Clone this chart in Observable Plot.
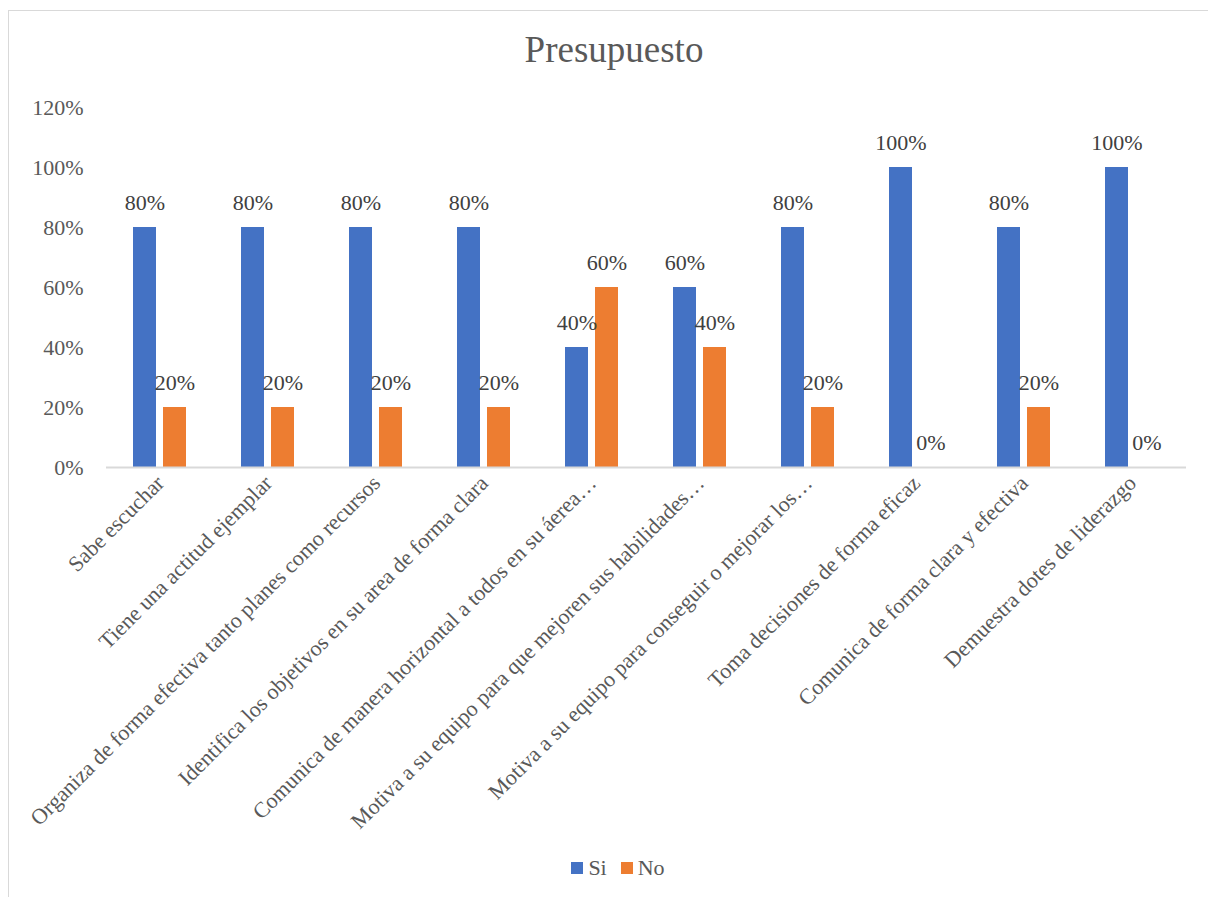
<!DOCTYPE html>
<html>
<head>
<meta charset="utf-8">
<script src="https://cdn.jsdelivr.net/npm/d3@7"></script>
<script src="https://cdn.jsdelivr.net/npm/@observablehq/plot@0.6"></script>
<style>
  html, body { margin: 0; padding: 0; background: #fff; overflow: hidden; }
  body { width: 1208px; height: 897px; position: relative; font-family: "Times New Roman", "Liberation Serif", "DejaVu Serif", serif; }
  #frame { position: absolute; left: 8px; top: 10px; width: 1220px; height: 900px; border: 1.5px solid #D9D9D9; box-sizing: border-box; }
  #title { position: absolute; left: 0; width: 1228px; top: 31px; text-align: center; font-size: 37px; color: #595959; line-height: 1; }
  #chart { position: absolute; left: 0; top: 90px; }
  #legend { position: absolute; top: 855px; left: 0; width: 1236px; display: flex; justify-content: center; align-items: center; font-size: 22px; color: #595959; }
  .item { display: flex; align-items: center; margin: 0 7px; }
  .sw { width: 12px; height: 12px; margin-right: 5px; display: inline-block; }
</style>
</head>
<body>
<div id="frame"></div>
<div id="title">Presupuesto</div>
<div id="chart"></div>
<div id="legend"></div>
<script>
const categories = [
  "Sabe escuchar",
  "Tiene una actitud ejemplar",
  "Organiza de forma efectiva tanto planes como recursos",
  "Identifica los objetivos en su area de forma clara",
  "Comunica de manera horizontal a todos en su áerea…",
  "Motiva a su equipo para que mejoren sus habilidades…",
  "Motiva a su equipo para conseguir o mejorar los…",
  "Toma decisiones de forma eficaz",
  "Comunica de forma clara y efectiva",
  "Demuestra dotes de liderazgo"
];
const series = ["Si", "No"];
const siValues = [80, 80, 80, 80, 40, 60, 80, 100, 80, 100];
const noValues = [20, 20, 20, 20, 60, 40, 20, 0, 20, 0];
const yTicks = [0, 20, 40, 60, 80, 100, 120];
const colors = ["#4472C4", "#ED7D31"];

const table = categories.flatMap((c, i) => [
  {category: c, serie: "Si", value: siValues[i]},
  {category: c, serie: "No", value: noValues[i]}
]);

const chart = Plot.plot({
  width: 1208,
  height: 750,
  marginLeft: 103,
  marginRight: 19,
  marginTop: 17,
  marginBottom: 373,
  style: {fontFamily: "'Times New Roman', 'Liberation Serif', 'DejaVu Serif', serif", fontSize: "22px", color: "#595959", background: "transparent", overflow: "visible"},
  fx: {domain: categories, paddingInner: 0, paddingOuter: 0, axis: "bottom", label: null, tickRotate: -45, tickSize: 0, tickPadding: 12},
  x: {domain: series, axis: null, paddingInner: 0.226, paddingOuter: 0.865},
  y: {domain: [0, 120], axis: null},
  color: {domain: series, range: colors},
  marks: [
    Plot.axisY({ticks: yTicks, tickFormat: d => d + "%", tickSize: 0, tickPadding: 23, label: null, fontSize: 22, fill: "#595959"}),
    Plot.barY(table, {fx: "category", x: "serie", y: "value", fill: "serie"}),
    Plot.ruleY([0], {stroke: "#D9D9D9", strokeWidth: 2}),
    Plot.text(table, {fx: "category", x: "serie", y: "value", text: d => d.value + "%", dy: -25, fill: "#404040", fontSize: 22})
  ]
});
document.getElementById("chart").appendChild(chart);

const legend = document.getElementById("legend");
series.forEach((s, i) => {
  const item = document.createElement("div");
  item.className = "item";
  const sw = document.createElement("span");
  sw.className = "sw";
  sw.style.background = colors[i];
  item.appendChild(sw);
  item.appendChild(document.createTextNode(s));
  legend.appendChild(item);
});
</script>
</body>
</html>
